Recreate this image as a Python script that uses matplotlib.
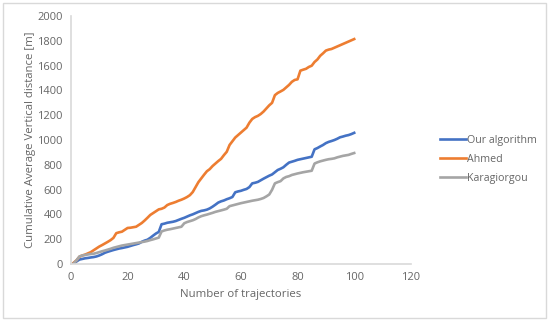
import matplotlib
matplotlib.use("Agg")
import matplotlib.pyplot as plt
from matplotlib.patches import Rectangle

trajectories = list(range(1, 101))

our_algorithm = [5, 20, 35, 40, 45, 48, 52, 55, 60, 68,
                 78, 90, 98, 105, 112, 118, 124, 128, 133, 138,
                 145, 152, 158, 165, 178, 188, 195, 210, 228, 245,
                 258, 320, 325, 332, 336, 340, 346, 355, 364, 372,
                 382, 392, 400, 410, 420, 428, 432, 438, 448, 462,
                 478, 495, 505, 512, 522, 530, 540, 578, 585, 590,
                 598, 605, 620, 650, 655, 662, 675, 688, 700, 712,
                 722, 740, 758, 768, 780, 800, 818, 825, 832, 840,
                 845, 850, 855, 860, 865, 925, 935, 948, 960, 975,
                 985, 992, 1000, 1010, 1022, 1028, 1035, 1040, 1048, 1058]

ahmed = [10, 30, 58, 68, 75, 85, 95, 110, 125, 140,
         152, 165, 178, 192, 210, 248, 255, 260, 275, 290,
         292, 296, 300, 315, 330, 350, 372, 395, 410, 425,
         440, 445, 455, 475, 485, 492, 500, 510, 518, 528,
         540, 555, 580, 620, 660, 690, 720, 748, 765, 790,
         810, 830, 848, 878, 905, 960, 990, 1020, 1040, 1060,
         1080, 1100, 1140, 1170, 1185, 1195, 1210, 1230, 1255, 1280,
         1300, 1362, 1380, 1392, 1405, 1425, 1445, 1470, 1485, 1490,
         1560, 1568, 1575, 1590, 1600, 1630, 1650, 1680, 1700, 1722,
         1730, 1735, 1745, 1755, 1765, 1775, 1785, 1795, 1805, 1815]

karagiorgou = [5, 30, 60, 68, 72, 76, 80, 82, 88, 95,
               102, 108, 115, 122, 130, 136, 142, 148, 152, 156,
               160, 164, 168, 172, 176, 180, 185, 192, 198, 205,
               212, 262, 270, 276, 280, 285, 290, 295, 300, 328,
               338, 345, 352, 362, 375, 385, 392, 398, 405, 412,
               420, 426, 432, 438, 445, 466, 472, 478, 484, 490,
               495, 500, 505, 510, 514, 518, 524, 532, 545, 560,
               598, 650, 660, 668, 690, 702, 708, 718, 724, 730,
               735, 740, 744, 748, 752, 810, 820, 828, 834, 840,
               845, 848, 852, 860, 866, 872, 876, 880, 888, 895]

series_names = ["Our algorithm", "Ahmed", "Karagiorgou"]
series_colors = ["#4472C4", "#ED7D31", "#A5A5A5"]
x_ticks = [0, 20, 40, 60, 80, 100, 120]
y_ticks = list(range(0, 2001, 200))

plt.rcParams['font.family'] = ['Open Sans', 'DejaVu Sans']
text_color = "#666666"

fig = plt.figure(figsize=(5.5, 3.23), dpi=100)
ax = fig.add_axes([0.129, 0.183, 0.618, 0.767])

for name, vals, col in zip(series_names, [our_algorithm, ahmed, karagiorgou], series_colors):
    ax.plot(trajectories, vals, color=col, lw=1.9, label=name, solid_joinstyle='round')

ax.set_xlim(0, 120)
ax.set_ylim(0, 2000)
ax.set_xticks(x_ticks)
ax.set_yticks(y_ticks)
ax.tick_params(length=0, colors=text_color, labelsize=8, pad=6)
for s in ["top", "right"]:
    ax.spines[s].set_visible(False)
for s in ["left", "bottom"]:
    ax.spines[s].set_color("#D9D9D9")
    ax.spines[s].set_linewidth(1.2)

ax.set_xlabel("Number of trajectories", color=text_color, fontsize=8.2, labelpad=4)
ax.set_ylabel("Cumulative Average Vertical distance [m]", color=text_color, fontsize=8.2, labelpad=1)

leg = fig.legend(loc="upper left", bbox_to_anchor=(0.793, 0.595), frameon=False,
                 fontsize=7.7, handlelength=2.4, handletextpad=0.1, labelspacing=0.75,
                 borderaxespad=0)
for t in leg.get_texts():
    t.set_color(text_color)

fig.patches.append(Rectangle((0.005, 0.015), 0.988, 0.977, transform=fig.transFigure,
                             fill=False, edgecolor="#D9D9D9", lw=1))

fig.savefig("out.png", dpi=100)
